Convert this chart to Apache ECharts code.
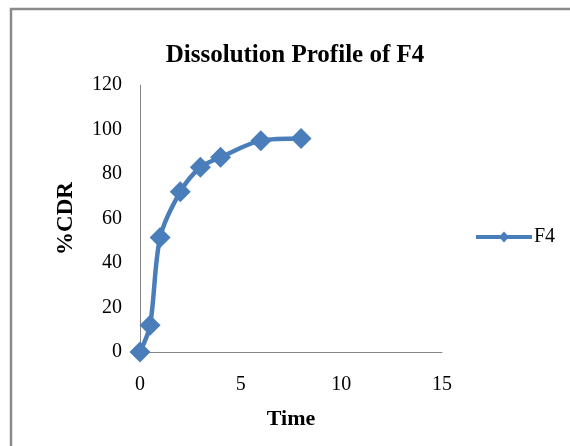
<!DOCTYPE html>
<html><head><meta charset="utf-8">
<script src="https://cdn.jsdelivr.net/npm/echarts@6/dist/echarts.min.js"></script>
<style>html,body{margin:0;padding:0;background:#fff}#c{width:570px;height:446px}</style>
</head><body><div id="c"></div>
<script>
const time = [0, 0.5, 1, 2, 3, 4, 6, 8];
const cdr = [0, 12, 51.5, 72, 83, 87.5, 95, 96];
const seriesName = 'F4';
const titleText = 'Dissolution Profile of F4';
const xName = 'Time';
const yName = '%CDR';

const chart = echarts.init(document.getElementById('c'));
const serif = '"Liberation Serif", "DejaVu Serif", serif';
chart.setOption({
  animation: false,
  backgroundColor: '#fff',
  graphic: [{
    type: 'rect', shape: {x: 11, y: 9, width: 600, height: 480},
    style: {fill: 'none', stroke: '#8a8a8a', lineWidth: 2.5}, z: 100
  }],
  title: {
    text: titleText, left: 290, top: 38, textAlign: 'center',
    textStyle: {fontFamily: serif, fontWeight: 'bold', fontSize: 25, color: '#000'}
  },
  legend: {
    data: [{name: seriesName, icon: 'path://M0,4 L56,4 L56,8 L0,8 Z M23,6 L28,0.5 L33,6 L28,11.5 Z'}],
    left: 471, top: 222, itemWidth: 56, itemHeight: 12,
    itemGap: 2,
    textStyle: {fontFamily: serif, fontSize: 20, color: '#000', padding: [0,0,0,-3]}
  },
  grid: {left: 140, right: 128, top: 85, bottom: 94},
  xAxis: {
    type: 'value', min: 0, max: 15, interval: 5,
    name: xName, nameLocation: 'middle', nameGap: 56,
    nameTextStyle: {fontFamily: serif, fontWeight: 'bold', fontSize: 22, color: '#000'},
    axisLine: {lineStyle: {color: '#868686', width: 1}},
    axisTick: {show: false},
    splitLine: {show: false},
    axisLabel: {fontFamily: serif, fontSize: 20, color: '#000', margin: 23}
  },
  yAxis: {
    type: 'value', min: 0, max: 120, interval: 20,
    name: yName, nameLocation: 'middle', nameGap: 62, nameRotate: 90,
    nameTextStyle: {fontFamily: serif, fontWeight: 'bold', fontSize: 23, color: '#000'},
    axisLine: {show: true, lineStyle: {color: '#868686', width: 1}},
    axisTick: {show: false},
    splitLine: {show: false},
    axisLabel: {fontFamily: serif, fontSize: 20, color: '#000', margin: 18}
  },
  series: [{
    name: seriesName, type: 'line', smooth: 0.3,
    data: time.map((t, i) => [t, cdr[i]]),
    symbol: 'diamond', symbolSize: 21,
    lineStyle: {color: '#4a7ebb', width: 4.5},
    itemStyle: {color: '#4a7ebb'}
  }]
});
</script></body></html>
